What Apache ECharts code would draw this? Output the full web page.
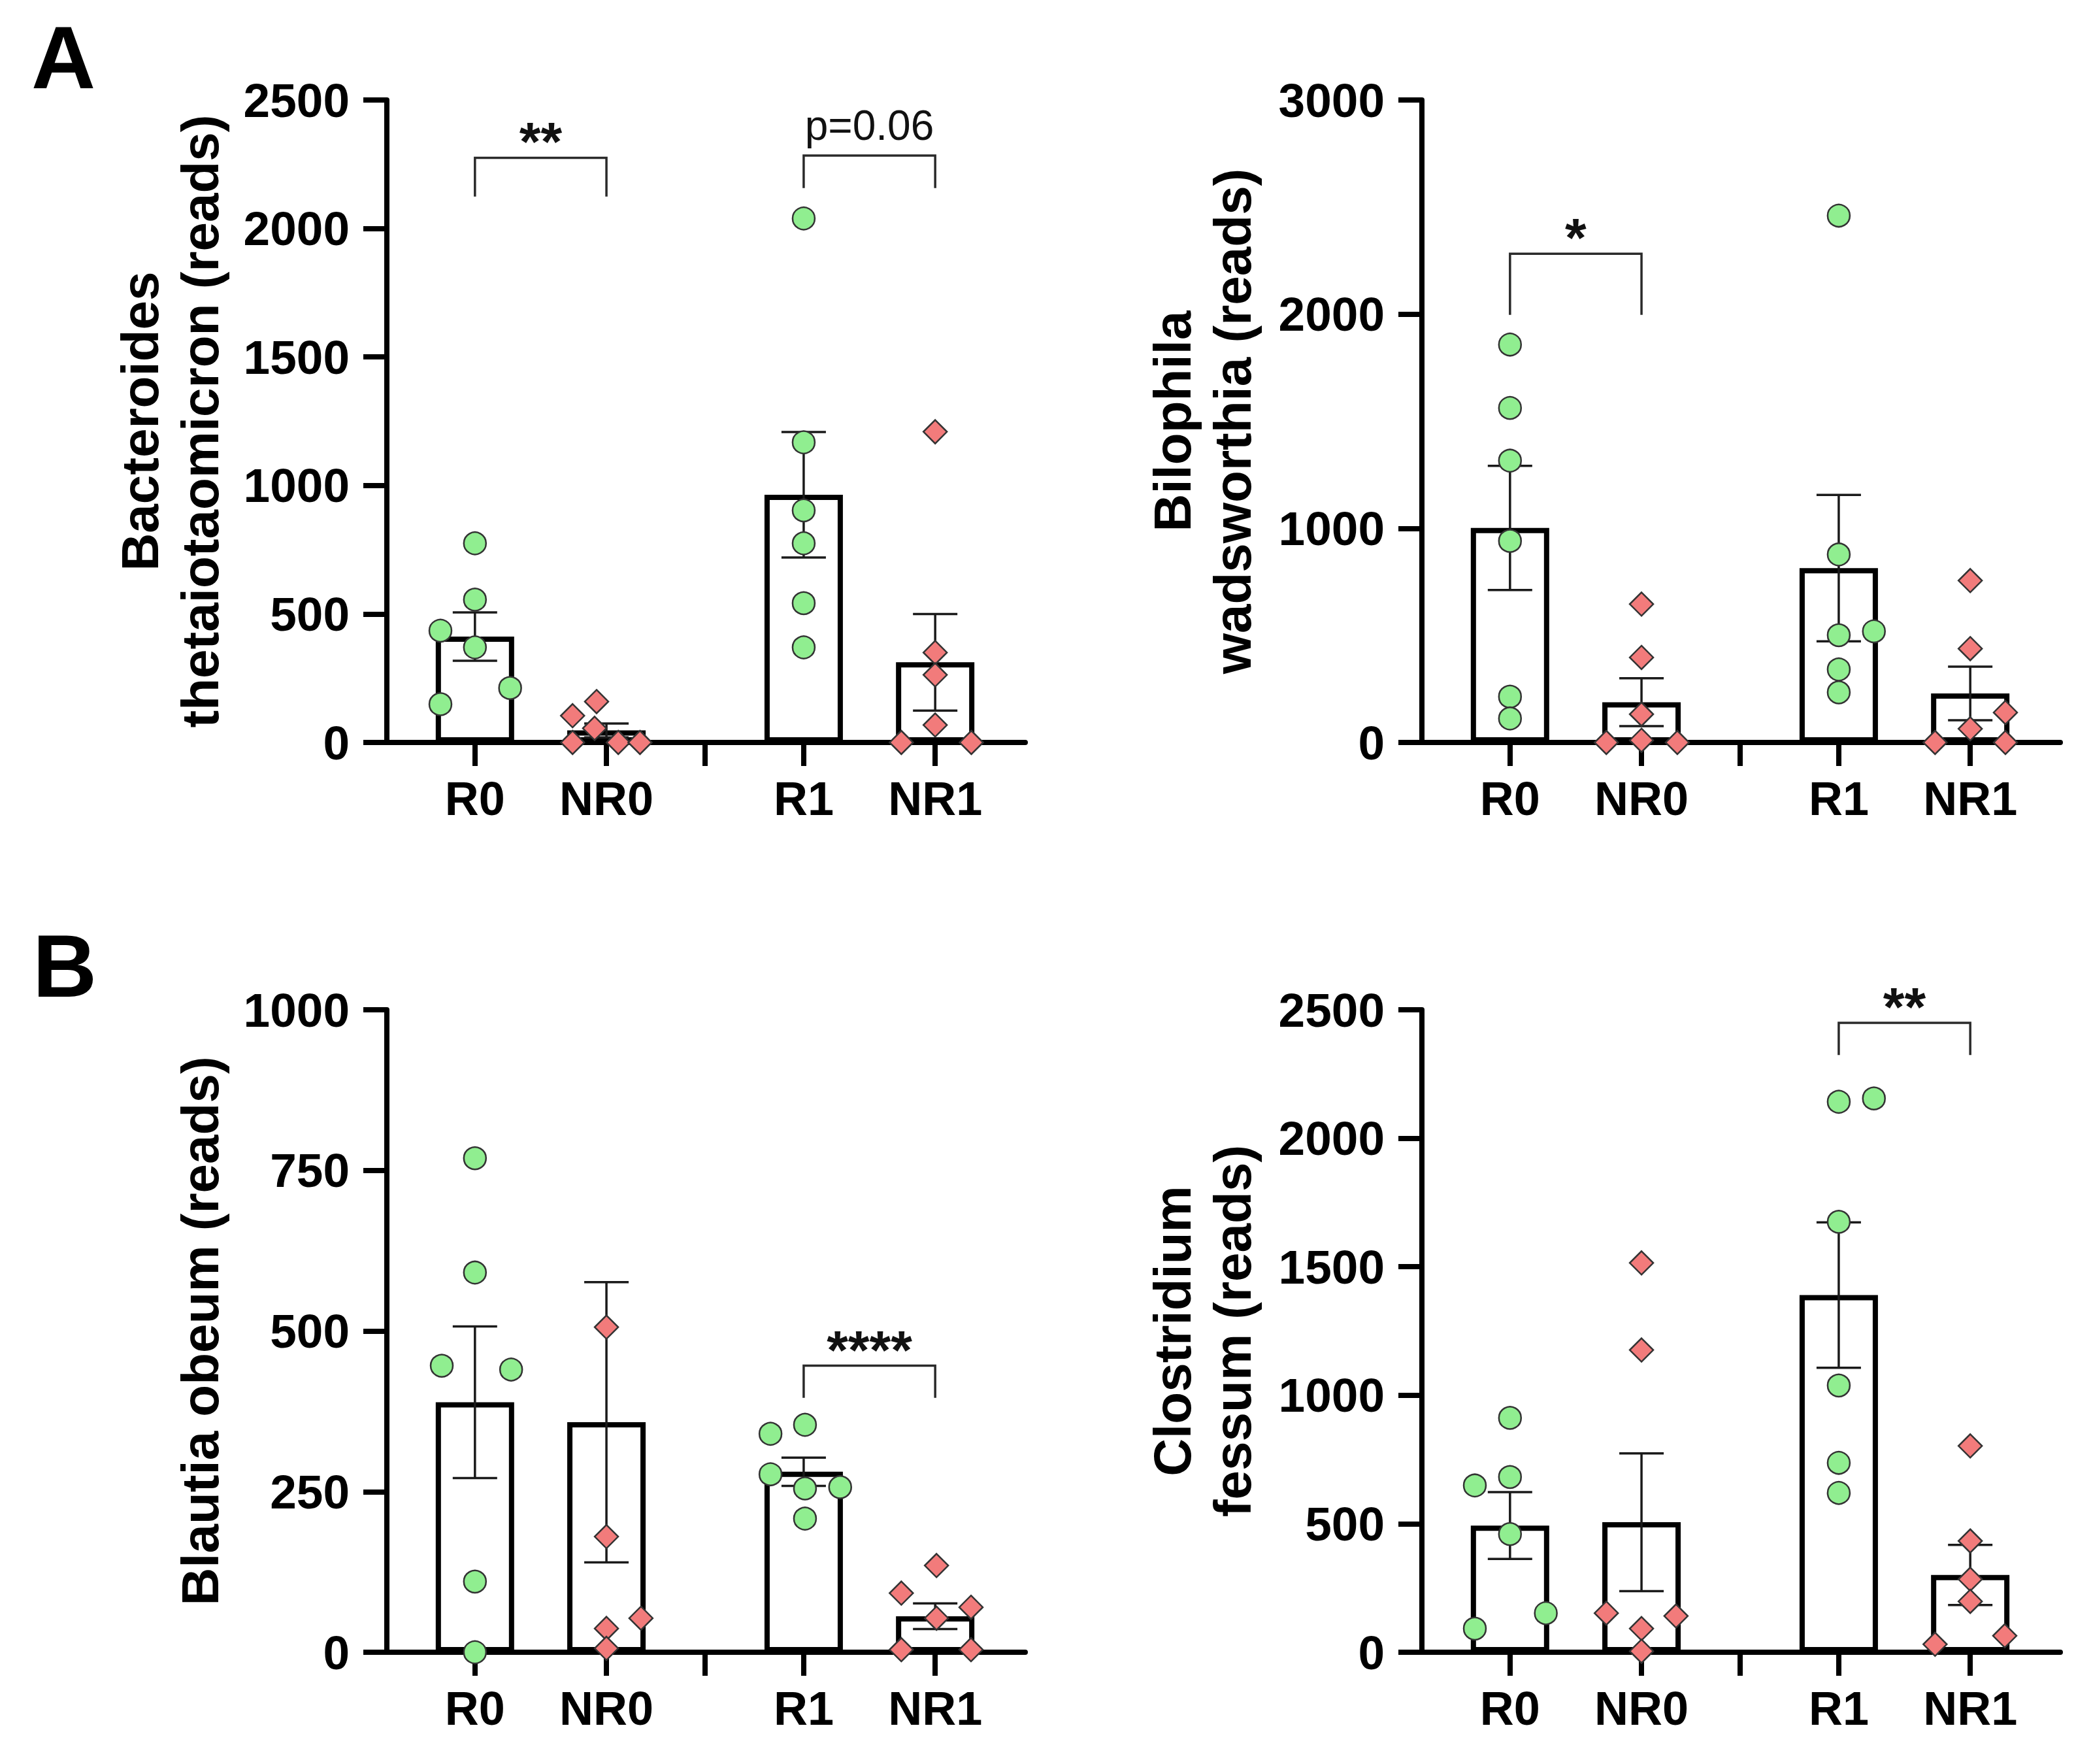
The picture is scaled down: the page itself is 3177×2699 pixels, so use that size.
<!DOCTYPE html>
<html><head><meta charset="utf-8">
<script src="https://cdn.jsdelivr.net/npm/echarts@6/dist/echarts.min.js"></script>
<style>html,body{margin:0;padding:0;background:#fff}#c{width:3177px;height:2699px}</style>
</head><body><div id="c"></div>
<script>
// ---------- DATA ----------
const groupNames = ['R0', 'NR0', 'R1', 'NR1'];

// Panel A (left): Bacteroides thetaiotaomicron
const btTitle = 'Bacteroides\nthetaiotaomicron (reads)';
const btAxis = [0, 2500, 500];            // min, max, interval
const btMean = [412, 47, 964, 312];
const btSem = [94, 27, 244, 188];
const btPts = [
  [775, 556, 435, 370, 212, 149],
  [104, 159, 55, 0, 0, 0],
  [2039, 1168, 903, 775, 542, 370],
  [1209, 350, 263, 68, 0, 0]
];
const btJit = [
  [0, 0, -1.05, 0, 1.07, -1.05],
  [-1.03, -0.3, -0.36, -1.03, 0.36, 1.02],
  [0, 0, 0, 0, 0, 0],
  [0, 0, 0, 0, -1.03, 1.1]
];
const btSig = [['R0', 'NR0', 2275, 2124, '**'], ['R1', 'NR1', 2284, 2157, 'p=0.06']];

// Panel A (right): Bilophila wadsworthia
const bwTitle = 'Bilophila\nwadsworthia (reads)';
const bwAxis = [0, 3000, 1000];
const bwMean = [1002, 188, 814, 229];
const bwSem = [290, 112, 342, 125];
const bwPts = [
  [1858, 1562, 1316, 941, 214, 112],
  [646, 397, 132, 0, 10, 0],
  [2460, 878, 501, 519, 341, 234],
  [756, 438, 140, 64, 0, 0]
];
const bwJit = [
  [0, 0, 0, 0, 0, 0],
  [0, 0, 0, -1.07, 0, 1.09],
  [0, 0, 0, 1.07, 0, 0],
  [0, 0, 1.07, 0, -1.07, 1.07]
];
const bwSig = [['R0', 'NR0', 2282, 1997, '*']];

// Panel B (left): Blautia obeum
const boTitle = 'Blautia obeum (reads)';
const boAxis = [0, 1000, 250];
const boMean = [389, 358, 281, 56];
const boSem = [118, 218, 22, 20];
const boPts = [
  [769, 591, 446, 440, 110, 0],
  [506, 180, 53, 37, 6],
  [340, 354, 277, 255, 257, 208],
  [135, 92, 70, 53, 4, 4]
];
const boJit = [
  [0, 0, -1.01, 1.1, 0, 0],
  [0, 0, 1.05, 0, 0],
  [-1.01, 0.04, -1.01, 0.04, 1.11, 0.04],
  [0.04, -1.03, 1.09, 0.04, -1.03, 1.09]
];
const boSig = [['R1', 'NR1', 446, 396, '****']];

// Panel B (right): Clostridium fessum
const cfTitle = 'Clostridium\nfessum (reads)';
const cfAxis = [0, 2500, 500];
const cfMean = [493, 506, 1390, 301];
const cfSem = [130, 268, 283, 117];
const cfPts = [
  [912, 682, 649, 460, 152, 92],
  [1515, 1176, 152, 141, 92, 4],
  [2142, 2155, 1675, 1038, 737, 620],
  [803, 433, 284, 198, 64, 31]
];
const cfJit = [
  [0, 0, -1.07, 0, 1.09, -1.07],
  [0, 0, -1.07, 1.05, 0, 0],
  [0, 1.07, 0, 0, 0, 0],
  [0, 0, 0, 0, 1.05, -1.07]
];
const cfSig = [['R1', 'NR1', 2449, 2324, '**']];

// ---------- LAYOUT ----------
const groupX = [2.68, 6.68, 12.68, 16.68];
const sepX = 9.68;
const xMax = 19.42;
const FONT = '"Liberation Sans", Arial, sans-serif';

const panels = [
  {title: btTitle, axis: btAxis, mean: btMean, sem: btSem, pts: btPts, jit: btJit, sig: btSig, grid: {left: 592, top: 153, width: 977, height: 983}, gap: 240},
  {title: bwTitle, axis: bwAxis, mean: bwMean, sem: bwSem, pts: bwPts, jit: bwJit, sig: bwSig, grid: {left: 2176, top: 153, width: 977, height: 983}, gap: 244},
  {title: boTitle, axis: boAxis, mean: boMean, sem: boSem, pts: boPts, jit: boJit, sig: boSig, grid: {left: 592, top: 1545, width: 977, height: 983}, gap: 240},
  {title: cfTitle, axis: cfAxis, mean: cfMean, sem: cfSem, pts: cfPts, jit: cfJit, sig: cfSig, grid: {left: 2176, top: 1545, width: 977, height: 983}, gap: 244}
];

function renderErr(params, api) {
  const x = api.value(0), m = api.value(1), s = api.value(2);
  const top = api.coord([x, m + s]), bot = api.coord([x, m - s]);
  const hw = 34;
  const st = {stroke: '#1a1a1a', lineWidth: 3.5};
  return {type: 'group', children: [
    {type: 'line', shape: {x1: top[0], y1: top[1], x2: bot[0], y2: bot[1]}, style: st},
    {type: 'line', shape: {x1: top[0] - hw, y1: top[1], x2: top[0] + hw, y2: top[1]}, style: st},
    {type: 'line', shape: {x1: bot[0] - hw, y1: bot[1], x2: bot[0] + hw, y2: bot[1]}, style: st}
  ]};
}

function makeBracket(sig) {
  return function (params, api) {
    const x1 = api.value(0), x2 = api.value(1), t = api.value(2), d = api.value(3);
    const a = api.coord([x1, d]), b = api.coord([x1, t]), c = api.coord([x2, t]), e = api.coord([x2, d]);
    const txt = sig[params.dataIndex][4];
    const star = txt.charAt(0) === '*';
    return {type: 'group', children: [
      {type: 'polyline', shape: {points: [a, b, c, e]}, style: {stroke: '#2a2a2a', lineWidth: 3.5, fill: null}},
      {type: 'text', x: (b[0] + c[0]) / 2, y: b[1] - (star ? 24 : 46),
        style: {text: txt, fontSize: star ? 84 : 64, fontWeight: star ? 'bold' : 'normal', fontFamily: FONT, fill: '#111',
          align: 'center', verticalAlign: 'middle', textAlign: 'center', textVerticalAlign: 'middle'}}
    ]};
  };
}

const grid = [], xAxis = [], yAxis = [], series = [];
panels.forEach((p, i) => {
  grid.push(Object.assign({containLabel: false}, p.grid));
  xAxis.push({
    type: 'value', gridIndex: i, min: 0, max: xMax,
    axisLine: {show: true, onZero: true, lineStyle: {color: '#000', width: 8}},
    axisTick: {show: true, customValues: groupX.slice(0, 2).concat([sepX]).concat(groupX.slice(2)), length: 36, lineStyle: {color: '#000', width: 8}},
    axisLabel: {show: true, customValues: groupX, margin: 50,
      formatter: v => { const k = groupX.findIndex(g => Math.abs(g - v) < 1e-6); return k >= 0 ? groupNames[k] : ''; },
      fontSize: 72, fontWeight: 'bold', fontFamily: FONT, color: '#000'},
    splitLine: {show: false}
  });
  yAxis.push({
    type: 'value', gridIndex: i, min: p.axis[0], max: p.axis[1], interval: p.axis[2],
    name: p.title, nameLocation: 'middle', nameGap: p.gap,
    nameTextStyle: {fontSize: 80, fontWeight: 'bold', fontFamily: FONT, color: '#000', lineHeight: 92},
    axisLine: {show: true, lineStyle: {color: '#000', width: 8}},
    axisTick: {show: true, length: 36, lineStyle: {color: '#000', width: 8}},
    axisLabel: {margin: 57, fontSize: 73, fontWeight: 'bold', fontFamily: FONT, color: '#000', formatter: v => String(v)},
    splitLine: {show: false}
  });
  series.push({
    type: 'bar', xAxisIndex: i, yAxisIndex: i, barWidth: 120, z: 2,
    itemStyle: {color: '#fff', borderColor: '#000', borderWidth: 8},
    data: groupX.map((x, k) => [x, p.mean[k]])
  });
  series.push({
    type: 'custom', xAxisIndex: i, yAxisIndex: i, z: 3, clip: false,
    renderItem: renderErr,
    data: groupX.map((x, k) => [x, p.mean[k], p.sem[k]])
  });
  [0, 1, 2, 3].forEach(k => {
    const isR = (k % 2 === 0);
    series.push({
      type: 'scatter', xAxisIndex: i, yAxisIndex: i, z: 4, clip: false,
      symbol: isR ? 'circle' : 'diamond', symbolSize: isR ? 34 : 36,
      itemStyle: {color: isR ? '#90EE90' : '#F27B7B', borderColor: '#333', borderWidth: 2.5, opacity: 1},
      data: p.pts[k].map((v, j) => [groupX[k] + p.jit[k][j], v])
    });
  });
  series.push({
    type: 'custom', xAxisIndex: i, yAxisIndex: i, z: 5, clip: false,
    renderItem: makeBracket(p.sig),
    data: p.sig.map(s => [groupX[groupNames.indexOf(s[0])], groupX[groupNames.indexOf(s[1])], s[2], s[3]])
  });
});

const chart = echarts.init(document.getElementById('c'), null, {renderer: 'svg'});
chart.setOption({
  backgroundColor: '#fff',
  animation: false,
  grid, xAxis, yAxis, series,
  graphic: [
    {type: 'text', x: 48, y: 88, style: {text: 'A', font: 'bold 136px ' + FONT, fill: '#000', textAlign: 'left', textVerticalAlign: 'middle', align: 'left', verticalAlign: 'middle'}},
    {type: 'text', x: 50, y: 1478, style: {text: 'B', font: 'bold 136px ' + FONT, fill: '#000', textAlign: 'left', textVerticalAlign: 'middle', align: 'left', verticalAlign: 'middle'}}
  ]
});
</script></body></html>
